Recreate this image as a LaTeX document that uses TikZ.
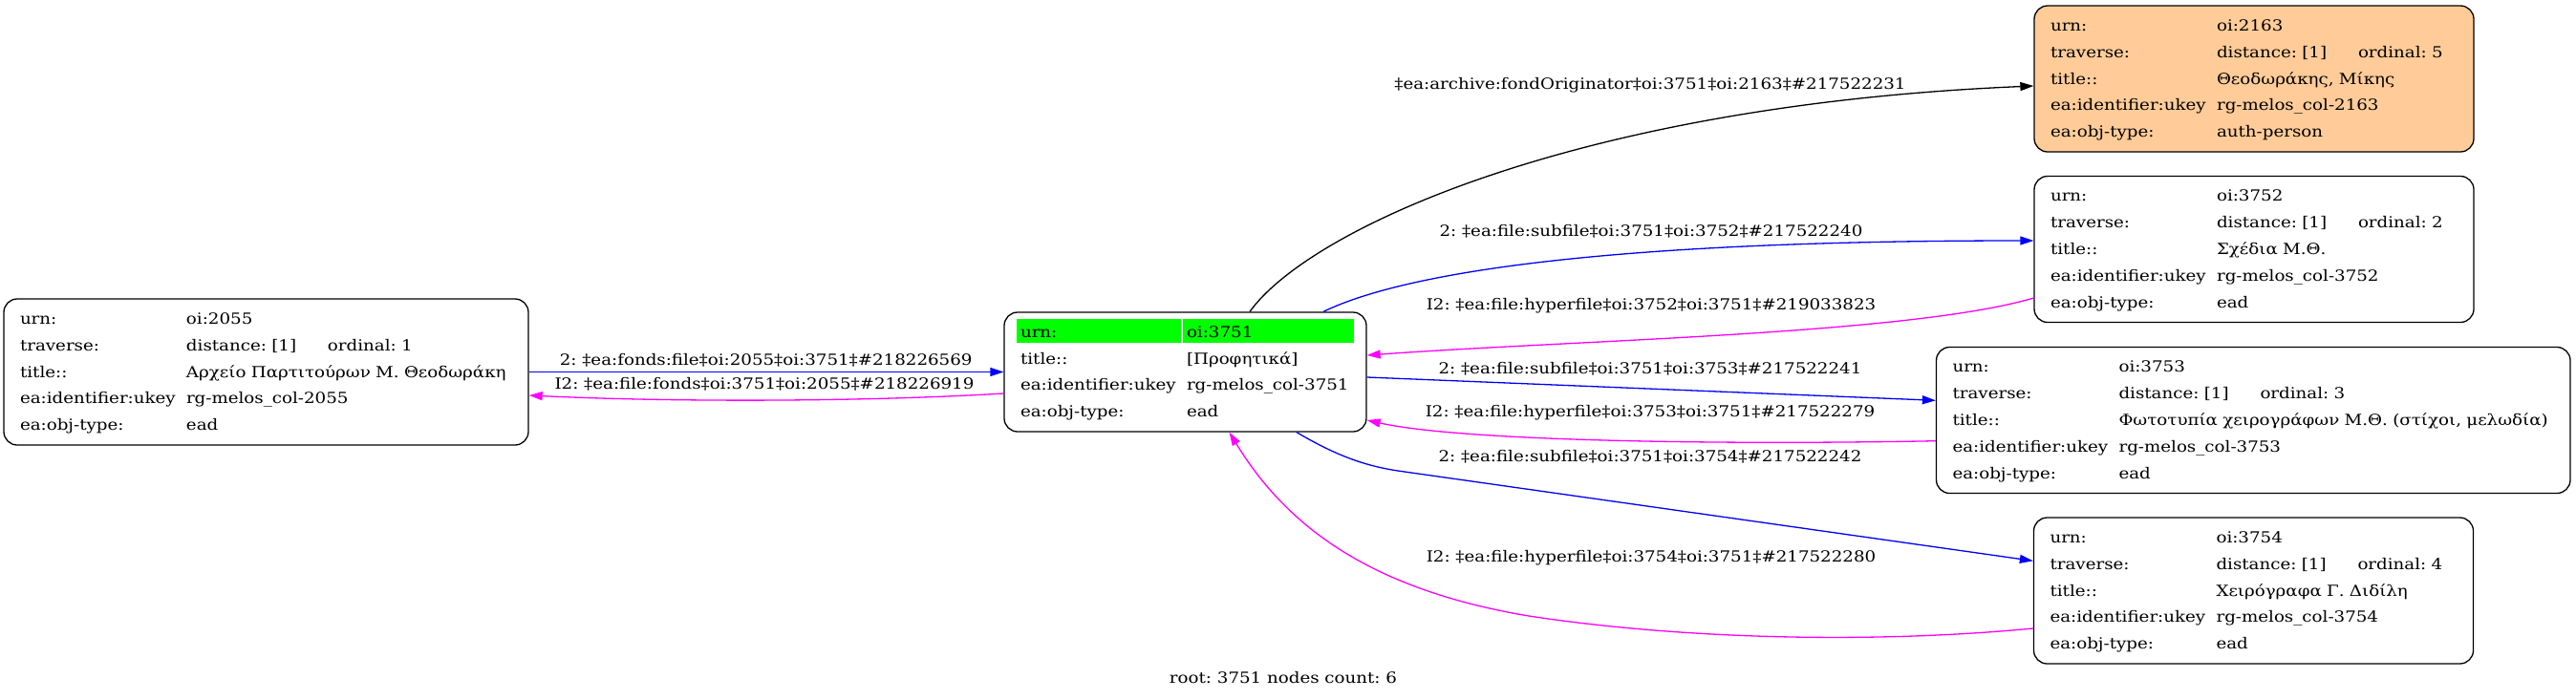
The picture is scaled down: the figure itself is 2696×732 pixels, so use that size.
\documentclass[tikz,border=0pt]{standalone}
\usepackage{fontspec}
\setmainfont{DejaVu Serif}[FakeStretch=1.14]
\frenchspacing
\usetikzlibrary{arrows.meta,backgrounds}

\definecolor{authfill}{RGB}{255,204,153}
\definecolor{urngreen}{RGB}{0,255,0}
\definecolor{subblue}{RGB}{0,0,255}
\definecolor{hyperpink}{RGB}{255,0,255}

\newcommand{\travrow}[1]{\makebox[148pt][l]{distance: [1]}ordinal: #1}
\newcommand{\recrows}[5]{%
  \begin{tabular}{@{}p{174pt}@{}l@{}}
    urn: & #1\\
    traverse: & \travrow{#2}\\
    title:: & #3\\
    ea:identifier:ukey & #4\\
    ea:obj-type: & #5
  \end{tabular}}

\tikzset{
  rec/.style={draw, rounded corners=14pt, line width=1.3pt, align=left,
    inner xsep=17pt, inner ysep=0pt, minimum height=153pt,
    font=\fontsize{16}{27.8}\selectfont\frenchspacing},
  link/.style={line width=1.3pt, -{Triangle[length=14pt,width=9pt]}},
  sub/.style={link, subblue},
  hyper/.style={link, hyperpink},
  lbl/.style={inner sep=1pt, text=black}
}

\begin{document}
\begin{tikzpicture}[x=1pt, y=-1pt, font=\fontsize{16}{19}\selectfont\frenchspacing]
    \useasboundingbox (0,0) rectangle (2696,732);

    % Nodi
    \node[rec, text width=515pt] (n2055) at (278.5,389.5)
        {\recrows{oi:2055}{1}{Αρχείο Παρτιτούρων Μ. Θεοδωράκη}{rg-melos\_col-2055}{ead}};
    \node[rec, text width=345pt, minimum height=125pt] (n3751) at (1240.5,389.5)
        {\begin{tabular}{@{}p{174pt}@{}l@{}}
            urn: & oi:3751\\
            title:: & [Προφητικά]\\
            ea:identifier:ukey & rg-melos\_col-3751\\
            ea:obj-type: & ead
        \end{tabular}};
    \node[rec, fill=authfill, text width=426pt] (n2163) at (2359,82.5)
        {\recrows{oi:2163}{5}{Θεοδωράκης, Μίκης}{rg-melos\_col-2163}{auth-person}};
    \node[rec, text width=426pt] (n3752) at (2359,261)
        {\recrows{oi:3752}{2}{Σχέδια Μ.Θ.}{rg-melos\_col-3752}{ead}};
    \node[rec, text width=629.5pt] (n3753) at (2358.25,440)
        {\recrows{oi:3753}{3}{Φωτοτυπία χειρογράφων Μ.Θ. (στίχοι, μελωδία)}{rg-melos\_col-3753}{ead}};
    \node[rec, text width=426pt] (n3754) at (2358.5,618.5)
        {\recrows{oi:3754}{4}{Χειρόγραφα Γ. Διδίλη}{rg-melos\_col-3754}{ead}};

    \node (footer) at (1343,710) {root: 3751 nodes count: 6};

    % Archi
    \draw[sub] (n2055.east) -- (n3751.west)
        node[lbl] at (801.7,377) {2: ‡ea:fonds:file‡oi:2055‡oi:3751‡\#218226569};
    \draw[hyper] ([yshift=-22.5pt]n3751.west) .. controls (900,421) and (700,421) .. ([yshift=-24.5pt]n2055.east)
        node[lbl] at (800,401.7) {I2: ‡ea:file:fonds‡oi:3751‡oi:2055‡\#218226919};
    \draw[link] ([xshift=67.5pt]n3751.north) .. controls (1370,240) and (1650,110) .. ([yshift=-7.5pt]n2163.west)
        node[lbl] at (1727,89.3) {‡ea:archive:fondOriginator‡oi:3751‡oi:2163‡\#217522231};
    \draw[sub] ([xshift=144.5pt]n3751.north) .. controls (1460,290) and (1650,252) .. ([yshift=9pt]n3752.west)
        node[lbl] at (1728,242) {2: ‡ea:file:subfile‡oi:3751‡oi:3752‡\#217522240};
    \draw[hyper] ([yshift=-51pt]n3752.west) .. controls (2000,350) and (1650,356) .. ([yshift=17.5pt]n3751.east)
        node[lbl] at (1728,320) {I2: ‡ea:file:hyperfile‡oi:3752‡oi:3751‡\#219033823};
    \draw[sub] ([yshift=-5.5pt]n3751.east) -- ([yshift=20.7pt]n3753.west)
        node[lbl] at (1727,386) {2: ‡ea:file:subfile‡oi:3751‡oi:3753‡\#217522241};
    \draw[hyper] ([yshift=-21.7pt]n3753.west) .. controls (1800,466) and (1530,462) .. ([yshift=-50.5pt]n3751.east)
        node[lbl] at (1727,431.7) {I2: ‡ea:file:hyperfile‡oi:3753‡oi:3751‡\#217522279};
    \draw[sub] ([xshift=116.5pt]n3751.south) .. controls (1400,478) and (1430,488) .. (1463,493) -- ([yshift=31.2pt]n3754.west)
        node[lbl] at (1727,478.3) {2: ‡ea:file:subfile‡oi:3751‡oi:3754‡\#217522242};
    \draw[hyper] ([yshift=-39.5pt]n3754.west) .. controls (1950,675) and (1750,668) .. (1600,645)
        .. controls (1420,615) and (1340,540) .. ([xshift=46pt]n3751.south)
        node[lbl] at (1728,584.3) {I2: ‡ea:file:hyperfile‡oi:3754‡oi:3751‡\#217522280};

    % sfondo e riga urn evidenziata
    \begin{scope}[on background layer]
        \fill[white] (0,0) rectangle (2696,732);
        \fill[urngreen] ([xshift=14pt,yshift=-8pt]n3751.north west) rectangle ++(172,25);
        \fill[urngreen] ([xshift=188pt,yshift=-8pt]n3751.north west) rectangle ++(179,25);
    \end{scope}
\end{tikzpicture}
\end{document}
